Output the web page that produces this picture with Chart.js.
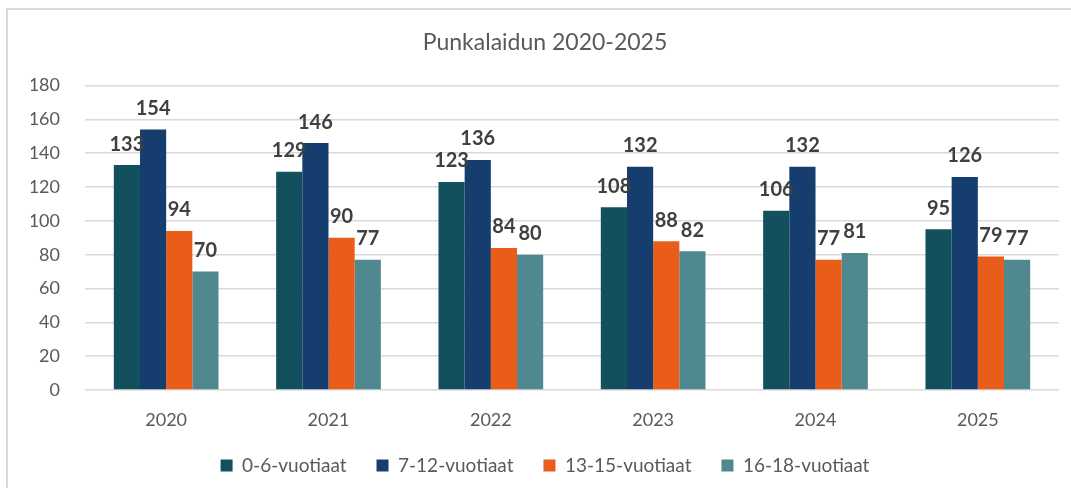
<!DOCTYPE html>
<html>
<head>
<meta charset="utf-8">
<script src="https://cdn.jsdelivr.net/npm/chart.js@4"></script>
<style>
  html, body { margin: 0; padding: 0; background: #fff; }
  #wrap { position: relative; width: 1071px; height: 488px; }
  #frame { position: absolute; left: 6px; top: 8px; right: 0; bottom: 0;
           border-top: 2px solid #d9d9d9; border-left: 2px solid #d9d9d9; }
  canvas { position: absolute; left: 0; top: 0; }
</style>
</head>
<body>
<div id="wrap">
  <div id="frame"></div>
  <canvas id="chartPunkalaidun" width="1071" height="488"></canvas>
</div>
<script>
// years on the x axis
const years = ['2020', '2021', '2022', '2023', '2024', '2025'];
// children per age group
const age0to6 = [133, 129, 123, 108, 106, 95];
const age7to12 = [154, 146, 136, 132, 132, 126];
const age13to15 = [94, 90, 84, 88, 77, 79];
const age16to18 = [70, 77, 80, 82, 81, 77];
const seriesNames = ['0-6-vuotiaat', '7-12-vuotiaat', '13-15-vuotiaat', '16-18-vuotiaat'];

const FONT = 'Lato, "Open Sans", sans-serif';

/** Draw the value above every bar */
const valueLabels = {
  id: 'valueLabels',
  afterDatasetsDraw(chart) {
    const ctx = chart.ctx;
    ctx.save();
    ctx.font = 'bold 20px ' + FONT;
    ctx.fillStyle = '#404040';
    ctx.textAlign = 'center';
    ctx.textBaseline = 'middle';
    chart.data.datasets.forEach((ds, i) => {
      chart.getDatasetMeta(i).data.forEach((bar, j) => {
        ctx.fillText(ds.data[j], bar.x, bar.y - 21);
      });
    });
    ctx.restore();
  }
};

const _chartPunkalaidun = document.getElementById('chartPunkalaidun');

new Chart(_chartPunkalaidun, {
    type: 'bar',
    data: {
        labels: years,
        datasets: [
            { label: seriesNames[0], data: age0to6, backgroundColor: 'rgb(18, 80, 94)' },
            { label: seriesNames[1], data: age7to12, backgroundColor: 'rgb(21, 61, 110)' },
            { label: seriesNames[2], data: age13to15, backgroundColor: 'rgb(233, 92, 25)' },
            { label: seriesNames[3], data: age16to18, backgroundColor: 'rgb(80, 136, 144)' }
        ]
    },
    options: {
      responsive: false,
      animation: false,
      layout: { padding: { left: 31, right: 12, top: 10, bottom: 6 } },
      datasets: {
        bar: { categoryPercentage: 0.645, barPercentage: 1.0 }
      },
      plugins: {
        title: {
          display: true,
          text: 'Punkalaidun 2020-2025',
          color: '#595959',
          font: { family: FONT, size: 23, weight: 'normal' },
          padding: { top: 19, bottom: 29 }
        },
        legend: {
          position: 'bottom',
          maxHeight: 56,
          labels: {
            boxWidth: 12,
            boxHeight: 12,
            color: '#595959',
            padding: 30,
            font: { family: FONT, size: 19 }
          }
        },
        tooltip: { enabled: false }
      },
      scales: {
        x: {
          grid: { display: false },
          border: { display: false },
          ticks: { color: '#595959', font: { family: FONT, size: 18 }, padding: 11 },
          afterFit(scale) { scale.height = 36; }
        },
        y: {
          min: 0,
          max: 180,
          ticks: { stepSize: 20, color: '#595959', font: { family: FONT, size: 18 }, padding: 25 },
          grid: { color: '#d9d9d9', lineWidth: 1.5, drawTicks: false },
          border: { display: false },
          afterFit(scale) { scale.width = 54; }
        }
      }
    },
    plugins: [valueLabels]
  });
</script>
</body>
</html>
